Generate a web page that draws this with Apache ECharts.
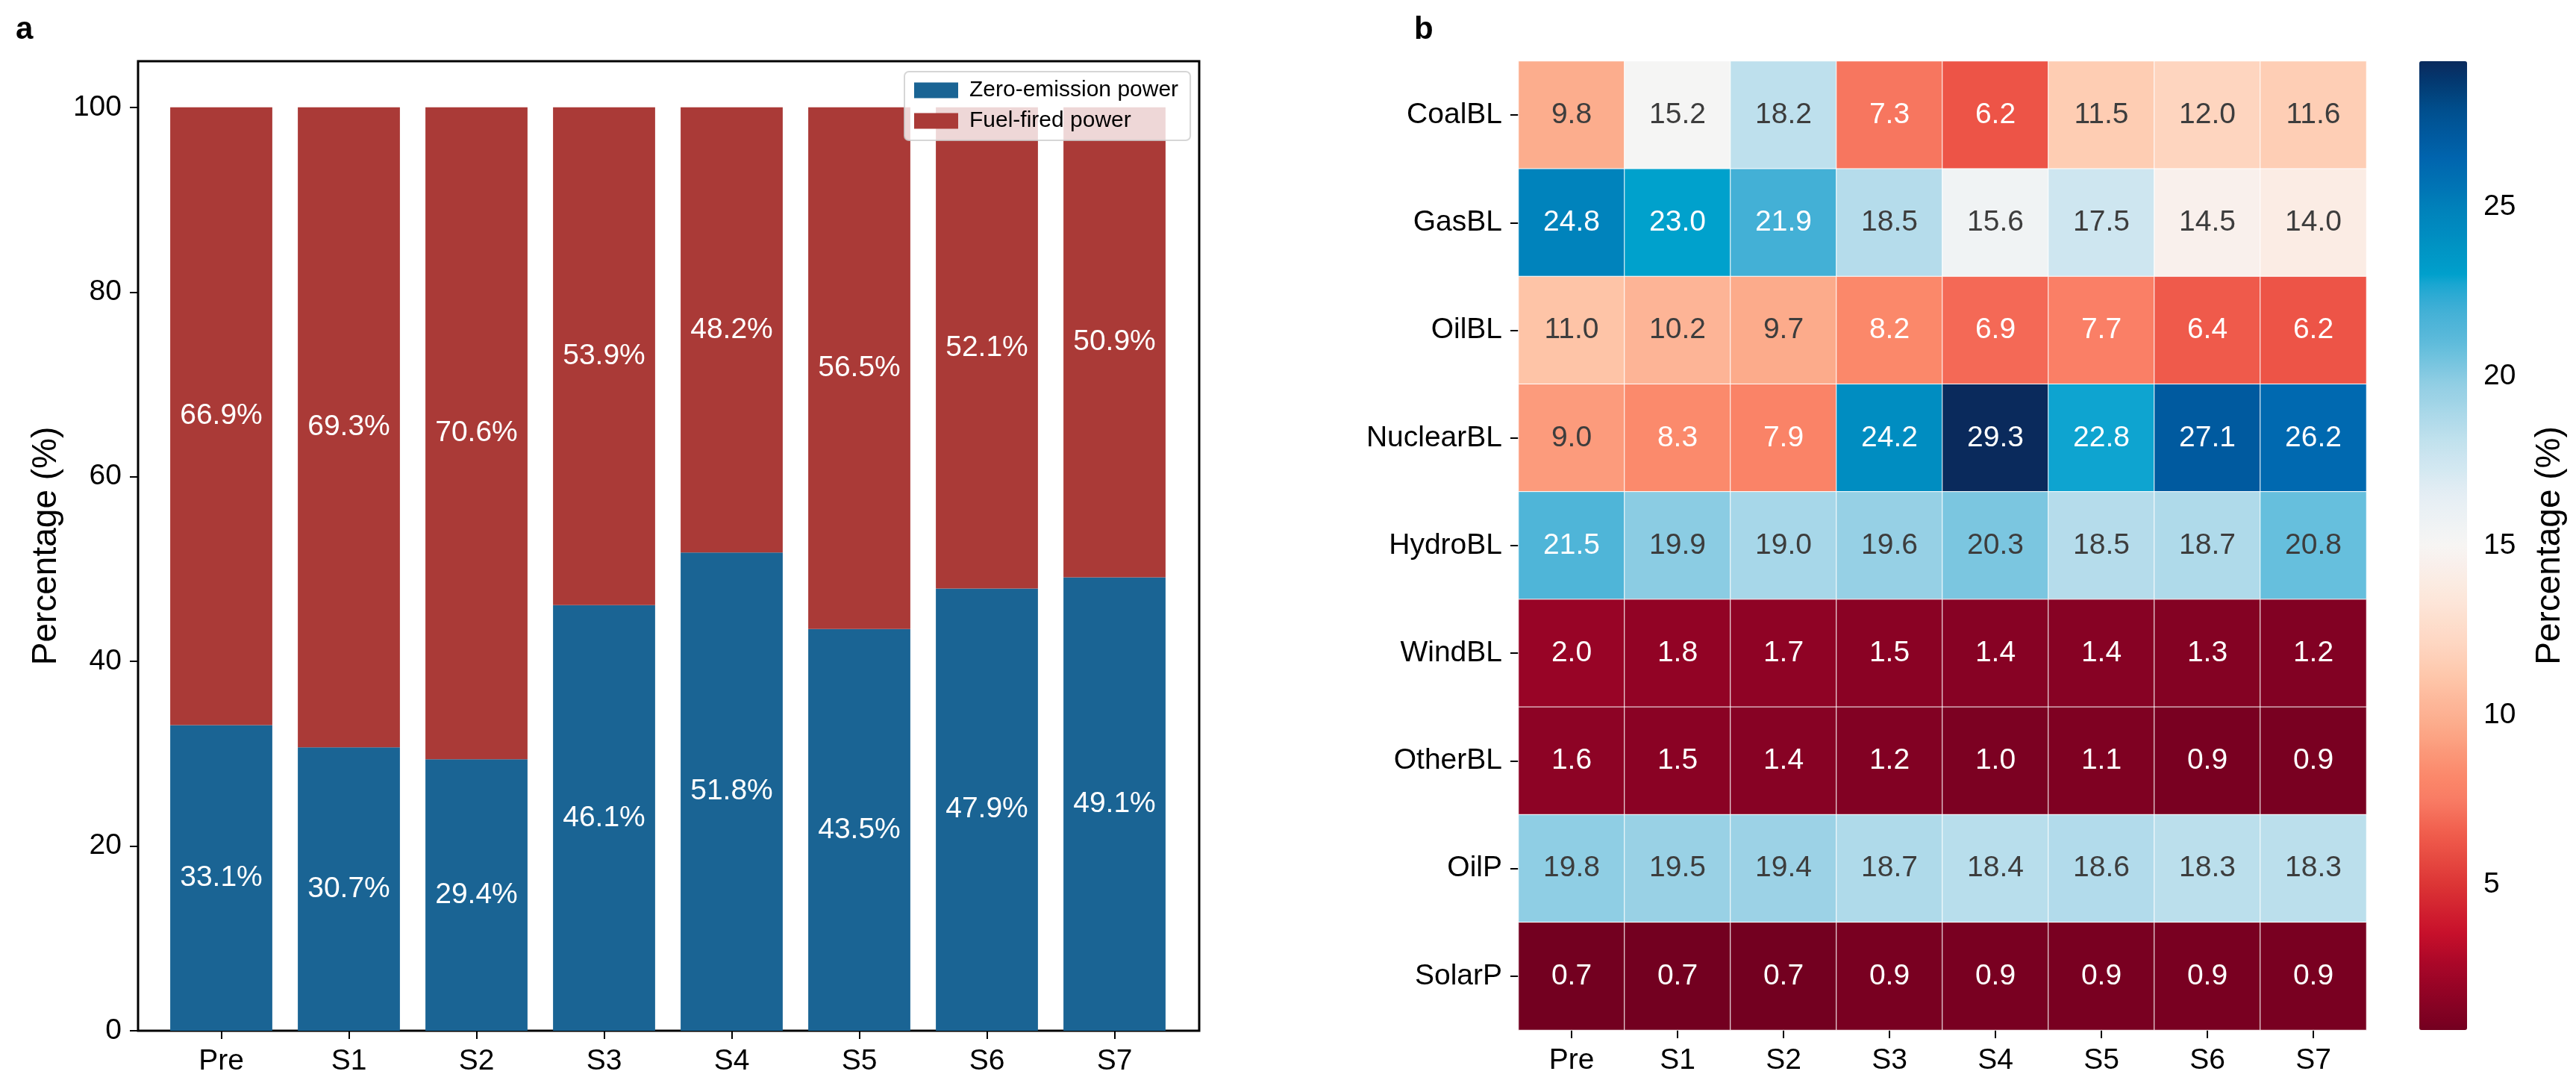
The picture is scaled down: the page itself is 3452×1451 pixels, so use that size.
<!DOCTYPE html>
<html>
<head>
<meta charset="utf-8">
<title>Power mix</title>
<script src="https://cdn.jsdelivr.net/npm/echarts@6/dist/echarts.min.js"></script>
<style>
  html, body { margin: 0; padding: 0; background: #fff; }
  #chart { width: 3452px; height: 1451px; }
</style>
</head>
<body>
<div id="chart"></div>
<script>
// scenarios (x axis of both panels)
const categories = ['Pre', 'S1', 'S2', 'S3', 'S4', 'S5', 'S6', 'S7'];

// panel a: stacked shares (%)
const zeroEmission = [33.1, 30.7, 29.4, 46.1, 51.8, 43.5, 47.9, 49.1];
const fuelFired = [66.9, 69.3, 70.6, 53.9, 48.2, 56.5, 52.1, 50.9];
const barTicks = [0, 20, 40, 60, 80, 100];

// panel b: heatmap rows (%)
const sectors = ['CoalBL', 'GasBL', 'OilBL', 'NuclearBL', 'HydroBL', 'WindBL', 'OtherBL', 'OilP', 'SolarP'];
const coalBL = [9.8, 15.2, 18.2, 7.3, 6.2, 11.5, 12.0, 11.6];
const gasBL = [24.8, 23.0, 21.9, 18.5, 15.6, 17.5, 14.5, 14.0];
const oilBL = [11.0, 10.2, 9.7, 8.2, 6.9, 7.7, 6.4, 6.2];
const nuclearBL = [9.0, 8.3, 7.9, 24.2, 29.3, 22.8, 27.1, 26.2];
const hydroBL = [21.5, 19.9, 19.0, 19.6, 20.3, 18.5, 18.7, 20.8];
const windBL = [2.0, 1.8, 1.7, 1.5, 1.4, 1.4, 1.3, 1.2];
const otherBL = [1.6, 1.5, 1.4, 1.2, 1.0, 1.1, 0.9, 0.9];
const oilP = [19.8, 19.5, 19.4, 18.7, 18.4, 18.6, 18.3, 18.3];
const solarP = [0.7, 0.7, 0.7, 0.9, 0.9, 0.9, 0.9, 0.9];
const heatRows = [coalBL, gasBL, oilBL, nuclearBL, hydroBL, windBL, otherBL, oilP, solarP];
const colorbarTicks = [5, 10, 15, 20, 25];
const vMin = 0.7, vMax = 29.3;

// colour scale (value -> colour)
const cmapStops = [
  [0.7, '#730020'], [1.5, '#8a0224'], [2.6, '#a80628'], [3.6, '#c9102b'],
  [5.0, '#dc3535'], [6.4, '#ef5a4a'], [7.5, '#f97c64'], [8.2, '#fb886a'],
  [9.7, '#fcab8b'], [10.2, '#fdb496'], [11.0, '#fec4a7'], [12.0, '#fed5bf'],
  [13.3, '#fde5d8'], [15.0, '#f7f5f4'], [16.5, '#e4eef4'], [18.0, '#c3e2ee'],
  [19.7, '#93cfe4'], [21.0, '#5ebbdb'], [21.5, '#4fb5d8'], [22.0, '#40afd5'],
  [22.7, '#1ca6d2'], [22.9, '#00a2cd'], [24.0, '#0090c2'], [25.0, '#0080ba'],
  [26.5, '#0063ad'], [27.8, '#00508f'], [28.6, '#023c74'], [29.3, '#0a2a5c']
];

function hexRgb(h) {
  return [parseInt(h.slice(1, 3), 16), parseInt(h.slice(3, 5), 16), parseInt(h.slice(5, 7), 16)];
}
function cmap(v) {
  let i = 0;
  while (i < cmapStops.length - 2 && v > cmapStops[i + 1][0]) i++;
  const a = cmapStops[i], b = cmapStops[i + 1];
  let t = (v - a[0]) / (b[0] - a[0]);
  t = Math.max(0, Math.min(1, t));
  const ca = hexRgb(a[1]), cb = hexRgb(b[1]);
  return ca.map((c, k) => Math.round(c + (cb[k] - c) * t));
}
function toHex(rgb) {
  return '#' + rgb.map(c => c.toString(16).padStart(2, '0')).join('');
}
// same rule as seaborn annot: white text on dark cells
function textColor(v) {
  const lin = cmap(v).map(c => {
    c = c / 255;
    return c <= 0.03928 ? c / 12.92 : Math.pow((c + 0.055) / 1.055, 2.4);
  });
  const L = 0.2126 * lin[0] + 0.7152 * lin[1] + 0.0722 * lin[2];
  return L < 0.408 ? '#ffffff' : '#3d3d3d';
}

const rampColors = [];
for (let k = 0; k <= 143; k++) {
  rampColors.push(toHex(cmap(vMin + (vMax - vMin) * k / 143)));
}

const heatData = [];
heatRows.forEach((row, r) => {
  row.forEach((v, c) => {
    heatData.push({ value: [c, r, v], label: { color: textColor(v) } });
  });
});

const font = 'Liberation Sans, Arial, sans-serif';
const tickStyle = { show: true, length: 11, lineStyle: { color: '#000', width: 2 } };
const labelStyle = { fontSize: 39, color: '#000', fontFamily: font };

let option = {
  backgroundColor: '#fff',
  animation: false,
  title: [
    { text: 'a', left: 16, top: 14, textStyle: { fontSize: 42, fontWeight: 'bold', color: '#000', fontFamily: font } },
    { text: 'b', left: 1890, top: 14, textStyle: { fontSize: 42, fontWeight: 'bold', color: '#000', fontFamily: font } }
  ],
  legend: {
    data: ['Zero-emission power', 'Fuel-fired power'],
    orient: 'vertical',
    left: 1212,
    top: 96,
    itemWidth: 59,
    itemHeight: 21,
    itemGap: 11,
    padding: [10, 16, 11, 13],
    backgroundColor: 'rgba(255,255,255,0.8)',
    borderColor: 'rgba(204,204,204,0.8)',
    borderWidth: 2,
    borderRadius: 6,
    icon: 'rect',
    textStyle: { fontSize: 30, color: '#000', fontFamily: font, padding: [0, 0, 0, 10] }
  },
  grid: [
    { left: 211, top: 82, width: 1368, height: 1299 },
    { left: 185, top: 82, width: 1422, height: 1299, show: true, borderColor: '#000', borderWidth: 3, backgroundColor: 'transparent' },
    { left: 2035, top: 82, width: 1136, height: 1298 },
    { left: 3242, top: 82, width: 64, height: 1298 }
  ],
  xAxis: [
    {
      gridIndex: 0, type: 'category', data: categories,
      axisLine: { show: false },
      axisTick: Object.assign({ alignWithLabel: true }, tickStyle),
      axisLabel: Object.assign({ margin: 22 }, labelStyle)
    },
    { gridIndex: 1, type: 'value', show: false },
    {
      gridIndex: 2, type: 'category', data: categories,
      axisLine: { show: false },
      axisTick: Object.assign({ alignWithLabel: true }, tickStyle),
      axisLabel: Object.assign({ margin: 22 }, labelStyle)
    },
    { gridIndex: 3, type: 'value', show: false }
  ],
  yAxis: [
    { gridIndex: 0, type: 'value', min: 0, max: 105, show: false },
    {
      gridIndex: 1, type: 'value', min: 0, max: 105,
      axisLine: { show: false },
      splitLine: { show: false },
      axisTick: Object.assign({ customValues: barTicks }, tickStyle),
      axisLabel: Object.assign({ margin: 22, customValues: barTicks }, labelStyle),
      name: 'Percentage (%)',
      nameLocation: 'middle',
      nameGap: 100,
      nameTextStyle: { fontSize: 46, color: '#000', fontFamily: font }
    },
    {
      gridIndex: 2, type: 'category', data: sectors, inverse: true,
      axisLine: { show: false },
      axisTick: Object.assign({ alignWithLabel: true }, tickStyle),
      axisLabel: Object.assign({ margin: 22 }, labelStyle)
    },
    {
      gridIndex: 3, type: 'value', min: vMin, max: vMax, position: 'right',
      axisLine: { show: false },
      splitLine: { show: false },
      axisTick: Object.assign({ customValues: colorbarTicks }, tickStyle),
      axisLabel: Object.assign({ margin: 22, customValues: colorbarTicks }, labelStyle),
      name: 'Percentage (%)',
      nameLocation: 'middle',
      nameRotate: 90,
      nameGap: 88,
      nameTextStyle: { fontSize: 46, color: '#000', fontFamily: font }
    }
  ],
  visualMap: {
    type: 'continuous',
    seriesIndex: 2,
    min: vMin,
    max: vMax,
    calculable: false,
    hoverLink: false,
    orient: 'vertical',
    left: 3242,
    top: 82,
    padding: 0,
    itemWidth: 64,
    itemHeight: 1298,
    inRange: { color: rampColors }
  },
  series: [
    {
      name: 'Zero-emission power', type: 'bar', stack: 'total',
      xAxisIndex: 0, yAxisIndex: 0, barWidth: '80%',
      itemStyle: { color: '#1a6494' },
      label: { show: true, position: 'inside', color: '#fff', fontSize: 39, fontFamily: font, formatter: p => p.value.toFixed(1) + '%' },
      data: zeroEmission
    },
    {
      name: 'Fuel-fired power', type: 'bar', stack: 'total',
      xAxisIndex: 0, yAxisIndex: 0, barWidth: '80%',
      itemStyle: { color: '#aa3a37' },
      label: { show: true, position: 'inside', color: '#fff', fontSize: 39, fontFamily: font, formatter: p => p.value.toFixed(1) + '%' },
      data: fuelFired
    },
    {
      type: 'heatmap', xAxisIndex: 2, yAxisIndex: 2,
      itemStyle: { borderColor: '#fff', borderWidth: 1 },
      label: { show: true, fontSize: 39, fontFamily: font, formatter: p => p.value[2].toFixed(1) },
      emphasis: { disabled: true },
      data: heatData
    }
  ]
};

let myChart = echarts.init(document.getElementById('chart'));
myChart.setOption(option);
</script>
</body>
</html>
